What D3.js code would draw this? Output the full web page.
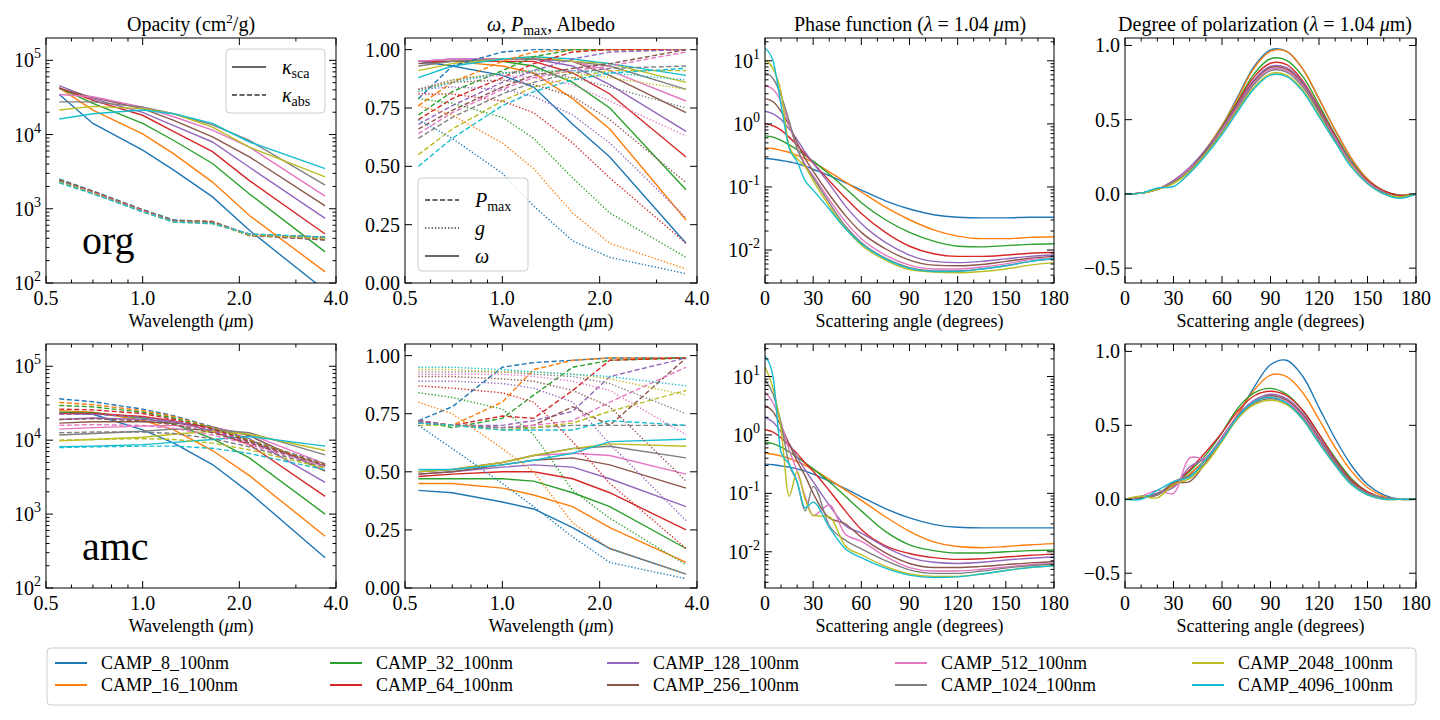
<!DOCTYPE html>
<html><head><meta charset="utf-8">
<script src="https://cdn.jsdelivr.net/npm/d3@7"></script>
<style>body{margin:0;background:#fff}text{font-family:"Liberation Serif","DejaVu Serif",serif;fill:#000}</style>
</head><body><svg id="c" width="1440" height="720"></svg>
<script>
const names=["CAMP_8_100nm","CAMP_16_100nm","CAMP_32_100nm","CAMP_64_100nm","CAMP_128_100nm","CAMP_256_100nm","CAMP_512_100nm","CAMP_1024_100nm","CAMP_2048_100nm","CAMP_4096_100nm"];
const colors=["#1f77b4","#ff7f0e","#2ca02c","#d62728","#9467bd","#8c564b","#e377c2","#7f7f7f","#bcbd22","#17becf"];
const wavelengths=[0.55,0.70,1.0,1.25,1.65,2.15,3.7];
// log10 of opacity
const orgKsca=[[4.54,4.15,3.79,3.52,3.16,2.71,1.90],[4.63,4.33,4.01,3.74,3.36,2.91,2.15],[4.63,4.42,4.15,3.92,3.61,3.20,2.42],[4.63,4.46,4.26,4.04,3.77,3.38,2.66],[4.66,4.48,4.30,4.12,3.90,3.56,2.87],[4.62,4.50,4.35,4.19,3.97,3.70,3.04],[4.54,4.51,4.37,4.24,4.06,3.83,3.17],[4.44,4.44,4.37,4.28,4.13,3.92,3.32],[4.33,4.38,4.35,4.28,4.10,3.83,3.43],[4.21,4.28,4.33,4.28,4.15,3.90,3.54]];
const orgKabs=[[3.40,3.24,2.99,2.85,2.83,2.65,2.58],[3.39,3.23,2.98,2.84,2.83,2.64,2.60],[3.39,3.23,2.98,2.84,2.82,2.64,2.61],[3.38,3.23,2.98,2.83,2.82,2.65,2.62],[3.38,3.22,2.97,2.83,2.81,2.65,2.59],[3.38,3.22,2.97,2.84,2.82,2.64,2.58],[3.37,3.22,2.97,2.83,2.81,2.65,2.60],[3.37,3.21,2.96,2.83,2.81,2.66,2.61],[3.36,3.21,2.96,2.82,2.80,2.65,2.60],[3.35,3.20,2.96,2.82,2.80,2.66,2.62]];
const amcKsca=[[4.37,4.35,4.14,3.96,3.67,3.29,2.41],[4.40,4.38,4.27,4.14,3.86,3.52,2.70],[4.38,4.37,4.30,4.22,4.02,3.76,3.00],[4.36,4.36,4.32,4.26,4.12,3.94,3.24],[4.28,4.30,4.28,4.25,4.17,4.02,3.43],[4.23,4.25,4.25,4.23,4.18,4.06,3.58],[4.15,4.17,4.19,4.20,4.17,4.08,3.68],[4.07,4.09,4.12,4.15,4.14,4.10,3.80],[3.99,4.01,4.04,4.08,4.12,4.08,3.86],[3.91,3.92,3.94,3.97,4.01,4.05,3.92]];
const amcKabs=[[4.56,4.52,4.42,4.33,4.18,4.00,3.68],[4.51,4.48,4.40,4.32,4.17,4.00,3.67],[4.47,4.45,4.38,4.30,4.16,3.99,3.66],[4.42,4.41,4.36,4.28,4.15,3.98,3.66],[4.35,4.35,4.31,4.25,4.13,3.97,3.65],[4.28,4.29,4.26,4.21,4.10,3.96,3.65],[4.20,4.21,4.20,4.16,4.07,3.94,3.64],[4.10,4.11,4.11,4.09,4.02,3.91,3.63],[4.00,4.01,4.02,4.01,3.96,3.87,3.62],[3.90,3.91,3.92,3.92,3.89,3.82,3.60]];
const orgOmega=[[0.95,0.93,0.89,0.84,0.68,0.54,0.17],[0.95,0.95,0.93,0.90,0.79,0.66,0.27],[0.95,0.95,0.95,0.93,0.86,0.75,0.40],[0.95,0.95,0.95,0.95,0.90,0.81,0.54],[0.95,0.96,0.96,0.96,0.93,0.85,0.65],[0.94,0.95,0.96,0.96,0.95,0.89,0.73],[0.95,0.96,0.96,0.96,0.95,0.91,0.78],[0.93,0.95,0.96,0.96,0.95,0.93,0.83],[0.91,0.94,0.96,0.97,0.95,0.94,0.86],[0.88,0.93,0.96,0.97,0.96,0.94,0.89]];
const orgPmax=[[0.79,0.93,0.99,1.0,1.0,1.0,1.0],[0.76,0.86,0.95,0.99,1.0,1.0,1.0],[0.72,0.82,0.91,0.97,1.0,1.0,1.0],[0.70,0.79,0.88,0.94,0.99,1.0,1.0],[0.68,0.76,0.86,0.91,0.96,0.99,1.0],[0.66,0.74,0.84,0.89,0.92,0.94,1.0],[0.64,0.73,0.83,0.88,0.91,0.93,0.99],[0.62,0.71,0.81,0.86,0.90,0.92,0.93],[0.55,0.66,0.78,0.84,0.88,0.91,0.91],[0.50,0.62,0.76,0.82,0.87,0.90,0.92]];
const orgG=[[0.70,0.62,0.47,0.33,0.18,0.11,0.04],[0.76,0.72,0.60,0.49,0.30,0.17,0.06],[0.79,0.77,0.71,0.62,0.45,0.30,0.11],[0.81,0.81,0.78,0.73,0.60,0.45,0.17],[0.83,0.84,0.83,0.80,0.72,0.60,0.28],[0.83,0.86,0.87,0.85,0.80,0.70,0.43],[0.83,0.87,0.89,0.88,0.85,0.78,0.63],[0.83,0.87,0.90,0.90,0.88,0.84,0.75],[0.82,0.87,0.90,0.91,0.90,0.88,0.83],[0.82,0.86,0.90,0.91,0.91,0.90,0.87]];
const amcOmega=[[0.42,0.41,0.37,0.34,0.26,0.17,0.06],[0.45,0.45,0.43,0.40,0.35,0.26,0.11],[0.47,0.47,0.47,0.46,0.41,0.35,0.17],[0.48,0.49,0.50,0.50,0.47,0.41,0.25],[0.49,0.50,0.52,0.53,0.52,0.47,0.35],[0.49,0.50,0.53,0.55,0.56,0.53,0.43],[0.50,0.51,0.54,0.57,0.58,0.57,0.49],[0.50,0.51,0.54,0.57,0.60,0.61,0.56],[0.50,0.51,0.54,0.57,0.60,0.62,0.61],[0.51,0.51,0.53,0.55,0.58,0.63,0.64]];
const amcPmax=[[0.72,0.78,0.95,0.97,0.98,0.99,0.99],[0.72,0.70,0.80,0.94,0.98,0.99,0.99],[0.72,0.69,0.73,0.83,0.95,0.98,0.99],[0.72,0.70,0.74,0.73,0.85,0.98,0.99],[0.72,0.70,0.70,0.72,0.76,0.91,0.99],[0.71,0.70,0.69,0.70,0.78,0.70,0.99],[0.71,0.70,0.69,0.70,0.72,0.80,0.95],[0.71,0.70,0.69,0.69,0.70,0.70,0.70],[0.70,0.70,0.68,0.69,0.71,0.76,0.85],[0.71,0.70,0.68,0.68,0.68,0.72,0.70]];
const amcG=[[0.70,0.60,0.45,0.35,0.22,0.11,0.04],[0.80,0.75,0.60,0.50,0.28,0.17,0.06],[0.84,0.82,0.77,0.66,0.42,0.30,0.10],[0.87,0.86,0.84,0.80,0.63,0.45,0.17],[0.89,0.89,0.88,0.86,0.80,0.62,0.29],[0.91,0.91,0.90,0.89,0.85,0.78,0.46],[0.92,0.92,0.92,0.91,0.89,0.85,0.66],[0.93,0.93,0.93,0.92,0.91,0.88,0.75],[0.94,0.94,0.93,0.93,0.92,0.90,0.83],[0.95,0.95,0.94,0.93,0.92,0.91,0.87]];
const phaseAngles=[0,5,10,15,20,25,30,40,50,60,75,90,105,120,135,150,165,180];
// log10 of phase function
const orgPhase=[[-0.55,-0.56,-0.58,-0.60,-0.63,-0.67,-0.72,-0.82,-0.93,-1.05,-1.22,-1.35,-1.44,-1.48,-1.49,-1.49,-1.48,-1.48],[-0.38,-0.39,-0.42,-0.45,-0.50,-0.55,-0.61,-0.76,-0.92,-1.08,-1.32,-1.52,-1.68,-1.78,-1.82,-1.82,-1.80,-1.79],[-0.19,-0.21,-0.26,-0.33,-0.41,-0.50,-0.59,-0.80,-1.02,-1.25,-1.52,-1.72,-1.86,-1.94,-1.95,-1.93,-1.91,-1.90],[0.0,-0.03,-0.10,-0.21,-0.34,-0.48,-0.62,-0.90,-1.17,-1.42,-1.72,-1.94,-2.06,-2.10,-2.10,-2.08,-2.05,-2.04],[0.20,0.16,0.07,-0.08,-0.25,-0.45,-0.62,-0.95,-1.30,-1.58,-1.88,-2.08,-2.18,-2.20,-2.18,-2.14,-2.10,-2.08],[0.40,0.35,0.20,-0.02,-0.30,-0.55,-0.75,-1.12,-1.45,-1.72,-1.98,-2.16,-2.24,-2.25,-2.23,-2.18,-2.13,-2.10],[0.61,0.55,0.35,0.0,-0.38,-0.64,-0.82,-1.20,-1.55,-1.82,-2.08,-2.24,-2.30,-2.30,-2.27,-2.22,-2.15,-2.12],[0.81,0.72,0.45,0.05,-0.40,-0.66,-0.85,-1.25,-1.62,-1.88,-2.13,-2.28,-2.33,-2.33,-2.30,-2.25,-2.18,-2.14],[1.01,0.88,0.50,-0.35,-0.55,-0.68,-0.90,-1.30,-1.65,-1.92,-2.16,-2.31,-2.35,-2.36,-2.34,-2.30,-2.24,-2.20],[1.20,1.00,0.30,-0.38,-0.60,-0.90,-1.05,-1.35,-1.66,-1.90,-2.14,-2.29,-2.34,-2.34,-2.30,-2.25,-2.18,-2.13]];
const amcPhase=[[-0.50,-0.51,-0.53,-0.55,-0.58,-0.62,-0.67,-0.79,-0.92,-1.06,-1.26,-1.42,-1.53,-1.58,-1.59,-1.59,-1.59,-1.59],[-0.31,-0.33,-0.36,-0.40,-0.46,-0.52,-0.59,-0.76,-0.94,-1.12,-1.40,-1.65,-1.83,-1.91,-1.93,-1.91,-1.88,-1.86],[-0.13,-0.15,-0.21,-0.29,-0.38,-0.48,-0.58,-0.80,-1.05,-1.30,-1.65,-1.88,-1.98,-2.02,-2.02,-2.00,-1.98,-1.97],[0.09,0.05,-0.05,-0.18,-0.32,-0.48,-0.62,-0.95,-1.30,-1.62,-1.90,-2.03,-2.10,-2.13,-2.12,-2.09,-2.06,-2.04],[0.30,0.22,0.05,-0.15,-0.38,-0.60,-0.80,-1.20,-1.55,-1.68,-1.92,-2.10,-2.18,-2.20,-2.18,-2.14,-2.11,-2.09],[0.50,0.40,0.15,-0.15,-0.45,-0.70,-1.00,-1.42,-1.52,-1.75,-2.02,-2.20,-2.27,-2.27,-2.25,-2.22,-2.19,-2.17],[0.73,0.55,0.20,-0.25,-0.62,-1.05,-1.38,-1.20,-1.70,-1.82,-2.08,-2.27,-2.33,-2.33,-2.30,-2.26,-2.22,-2.20],[0.94,0.70,0.20,-0.50,-0.80,-1.30,-0.88,-1.55,-1.80,-1.95,-2.15,-2.31,-2.37,-2.37,-2.33,-2.28,-2.24,-2.21],[1.16,0.80,0.10,-1.05,-0.63,-1.10,-1.38,-1.40,-1.90,-2.05,-2.25,-2.38,-2.42,-2.42,-2.38,-2.32,-2.27,-2.24],[1.35,1.00,-0.30,-0.50,-0.80,-1.25,-1.15,-1.58,-1.95,-2.10,-2.28,-2.40,-2.44,-2.43,-2.38,-2.32,-2.27,-2.24]];
const polAngles=[0,10,20,30,40,50,60,70,80,90,100,110,120,130,140,150,160,170,180];
const orgPol=[[0,0.005,0.03,0.08,0.17,0.30,0.46,0.66,0.86,0.97,0.96,0.84,0.64,0.43,0.24,0.10,0.02,-0.01,0],[0,0.005,0.03,0.08,0.17,0.30,0.46,0.65,0.85,0.96,0.96,0.84,0.64,0.43,0.24,0.10,0.02,-0.01,0],[0,0.005,0.03,0.08,0.17,0.29,0.45,0.63,0.81,0.91,0.90,0.79,0.60,0.40,0.22,0.09,0.02,-0.01,0],[0,0.005,0.03,0.09,0.17,0.29,0.44,0.62,0.79,0.88,0.87,0.76,0.58,0.39,0.21,0.09,0.02,-0.01,0],[0,0.005,0.03,0.09,0.18,0.30,0.44,0.61,0.77,0.86,0.85,0.75,0.57,0.38,0.21,0.08,0.01,-0.02,0],[0,0.005,0.03,0.08,0.17,0.29,0.43,0.60,0.76,0.85,0.84,0.74,0.56,0.37,0.20,0.08,0.01,-0.02,0],[0,0.005,0.03,0.08,0.17,0.28,0.43,0.59,0.75,0.84,0.83,0.73,0.55,0.37,0.20,0.08,0.01,-0.02,0],[0,0.005,0.03,0.08,0.16,0.28,0.42,0.58,0.74,0.83,0.82,0.72,0.55,0.36,0.19,0.07,0.01,-0.02,0],[0,0.005,0.03,0.07,0.15,0.27,0.41,0.57,0.72,0.81,0.80,0.70,0.53,0.35,0.19,0.07,0.0,-0.02,0],[0,0.005,0.04,0.05,0.14,0.26,0.40,0.56,0.71,0.80,0.79,0.69,0.52,0.35,0.18,0.07,0.0,-0.03,0]];
const amcPol=[[0,0.01,0.04,0.09,0.17,0.27,0.40,0.57,0.76,0.91,0.94,0.83,0.62,0.41,0.23,0.10,0.03,0.0,0],[0,0.01,0.04,0.09,0.17,0.27,0.41,0.58,0.74,0.84,0.83,0.72,0.54,0.35,0.19,0.08,0.02,0,0],[0,0.01,0.04,0.10,0.19,0.30,0.45,0.62,0.72,0.75,0.71,0.60,0.44,0.28,0.14,0.05,0.01,0,0],[0,0.01,0.03,0.10,0.20,0.32,0.45,0.60,0.70,0.73,0.70,0.60,0.44,0.27,0.13,0.05,0.01,0,0],[0,0.01,0.04,0.08,0.22,0.28,0.42,0.57,0.67,0.71,0.68,0.58,0.42,0.26,0.12,0.04,0.01,0,0],[0,0.01,0.03,0.11,0.12,0.25,0.41,0.56,0.66,0.70,0.67,0.57,0.41,0.25,0.12,0.04,0.01,0,0],[0,0.02,0.06,0.04,0.28,0.28,0.41,0.56,0.66,0.69,0.66,0.56,0.40,0.24,0.11,0.04,0.01,0,0],[0,0.02,0.03,0.12,0.16,0.25,0.40,0.55,0.65,0.68,0.65,0.55,0.39,0.24,0.11,0.04,0.01,0,0],[0,0.02,0.01,0.10,0.14,0.24,0.39,0.55,0.64,0.67,0.64,0.54,0.38,0.23,0.10,0.03,0,0,0],[0,0.0,0.06,0.12,0.15,0.27,0.40,0.56,0.66,0.69,0.65,0.54,0.38,0.23,0.10,0.03,0,0,0]];

const svg=d3.select("#c");
const cols=[[46,336],[405,697],[765,1054],[1125,1416]];
const rows=[[38,283],[344,588]];
let clipId=0;
function sup(sel,base,exp){sel.append("tspan").text(base);sel.append("tspan").attr("dy",-9).attr("font-size","0.7em").text(exp);}
function panel(ci,ri,x,y,opts){
  const [x0,x1]=cols[ci],[y0,y1]=rows[ri];
  x.range([x0,x1]);y.range([y1,y0]);
  const g=svg.append("g");
  const id="cl"+(clipId++);
  svg.append("clipPath").attr("id",id).append("rect").attr("x",x0).attr("y",y0).attr("width",x1-x0).attr("height",y1-y0);
  const plot=g.append("g").attr("clip-path",`url(#${id})`);
  const ax=g.append("g").attr("stroke","#000").attr("stroke-width",1);
  const tick=(vals,len,axis)=>vals.forEach(v=>{
    if(axis==="x"){const p=x(v);ax.append("line").attr("x1",p).attr("x2",p).attr("y1",y1).attr("y2",y1-len);ax.append("line").attr("x1",p).attr("x2",p).attr("y1",y0).attr("y2",y0+len);}
    else{const p=y(v);ax.append("line").attr("y1",p).attr("y2",p).attr("x1",x0).attr("x2",x0+len);ax.append("line").attr("y1",p).attr("y2",p).attr("x1",x1).attr("x2",x1-len);}
  });
  tick(opts.xt,7,"x");tick(opts.xm||[],3.5,"x");tick(opts.yt,7,"y");tick(opts.ym||[],3.5,"y");
  g.append("rect").attr("x",x0).attr("y",y0).attr("width",x1-x0).attr("height",y1-y0).attr("fill","none").attr("stroke","#000").attr("stroke-width",1);
  opts.xt.forEach(v=>g.append("text").attr("x",x(v)).attr("y",y1+22).attr("text-anchor","middle").attr("font-size",20).text(opts.xf(v)));
  opts.yt.forEach(v=>{const t=g.append("text").attr("x",x0-5).attr("y",y(v)+7).attr("text-anchor","end").attr("font-size",20);
    if(opts.ylog){sup(t,"10",Math.round(Math.log10(v)));} else t.text(opts.yf(v));});
  g.append("text").attr("x",(x0+x1)/2).attr("y",y1+44).attr("text-anchor","middle").attr("font-size",18).html(opts.xl);
  return plot;
}
function draw(plot,xs,ys,x,y,dash,log,curve){
  ys.forEach((s,i)=>{
    const d=s.map((v,j)=>[xs[j],log?Math.pow(10,v):v]);
    plot.append("path").attr("d",d3.line().x(p=>x(p[0])).y(p=>y(p[1])).curve(curve||d3.curveLinear)(d))
      .attr("fill","none").attr("stroke",colors[i]).attr("stroke-width",1.4).attr("stroke-dasharray",dash||null);
  });
}
const wlTicks=[0.5,1,2,4],wlMinor=[0.6,0.7,0.8,0.9,3];
const wlLab='Wavelength (<tspan font-style="italic">μ</tspan>m)';
const angLab='Scattering angle (degrees)';
const angTicks=[0,30,60,90,120,150,180],angMinor=d3.range(10,180,10).filter(v=>v%30);
const logMinor=(a,b)=>{const r=[];for(let e=a;e<b;e++)for(let k=2;k<10;k++)r.push(k*Math.pow(10,e));return r;};
const DASH="5,2.5",DOT="1.3,2";
[[orgKsca,orgKabs,orgOmega,orgPmax,orgG,orgPhase,orgPol,[0.003,23]],[amcKsca,amcKabs,amcOmega,amcPmax,amcG,amcPhase,amcPol,[0.0024,36]]].forEach((D,r)=>{
  let x=d3.scaleLog().domain([0.5,4]),y=d3.scaleLog().domain([100,2e5]);
  let p=panel(0,r,x,y,{xt:wlTicks,xm:wlMinor,xf:d3.format(".1f"),yt:[1e2,1e3,1e4,1e5],ym:logMinor(2,5),ylog:true,xl:wlLab});
  draw(p,wavelengths,D[0],x,y,null,true);draw(p,wavelengths,D[1],x,y,DASH,true);
  x=d3.scaleLog().domain([0.5,4]);y=d3.scaleLinear().domain([0,1.05]);
  p=panel(1,r,x,y,{xt:wlTicks,xm:wlMinor,xf:d3.format(".1f"),yt:[0,0.25,0.5,0.75,1],yf:d3.format(".2f"),xl:wlLab});
  draw(p,wavelengths,D[2],x,y,null);draw(p,wavelengths,D[3],x,y,DASH);draw(p,wavelengths,D[4],x,y,DOT);
  x=d3.scaleLinear().domain([0,180]);y=d3.scaleLog().domain(D[7]);
  p=panel(2,r,x,y,{xt:angTicks,xm:angMinor,xf:d3.format("d"),yt:[0.01,0.1,1,10],ym:logMinor(-3,2).filter(v=>v>=D[7][0]&&v<=D[7][1]),ylog:true,xl:angLab});
  draw(p,phaseAngles,D[5],x,y,null,true,d3.curveMonotoneX);
  x=d3.scaleLinear().domain([0,180]);y=d3.scaleLinear().domain([-0.6,1.05]);
  p=panel(3,r,x,y,{xt:angTicks,xm:angMinor,xf:d3.format("d"),yt:[-0.5,0,0.5,1],yf:v=>v.toFixed(1).replace("-","−"),xl:angLab});
  draw(p,polAngles,D[6],x,y,null,false,d3.curveCatmullRom);
  svg.append("text").attr("x",82).attr("y",rows[r][0]+216).attr("font-size",40).text(r?"amc":"org");
});
// titles
const T=(x,h)=>svg.append("text").attr("x",x).attr("y",31).attr("text-anchor","middle").attr("font-size",20).html(h);
T(191,'Opacity (cm<tspan dy="-8" font-size="13">2</tspan><tspan dy="8">/g)</tspan>');
T(551,'<tspan font-style="italic">ω</tspan>, <tspan font-style="italic">P</tspan><tspan font-size="14" dy="4">max</tspan><tspan dy="-4">, Albedo</tspan>');
T(910,'Phase function (<tspan font-style="italic">λ</tspan> = 1.04 <tspan font-style="italic">μ</tspan>m)');
T(1265,'Degree of polarization (<tspan font-style="italic">λ</tspan> = 1.04 <tspan font-style="italic">μ</tspan>m)');
// in-panel legends
function box(x,y,w,h){svg.append("rect").attr("x",x).attr("y",y).attr("width",w).attr("height",h).attr("rx",4).attr("fill","#fff").attr("fill-opacity",0.8).attr("stroke","#ccc");}
function key(x,y,dash,html){svg.append("line").attr("x1",x).attr("x2",x+34).attr("y1",y).attr("y2",y).attr("stroke","#333").attr("stroke-width",1.5).attr("stroke-dasharray",dash);
  svg.append("text").attr("x",x+50).attr("y",y+7).attr("font-size",20).html(html);}
box(226,49,99,64);
key(232,67,null,'<tspan font-style="italic">κ</tspan><tspan font-size="14" dy="4">sca</tspan>');
key(232,95,DASH,'<tspan font-style="italic">κ</tspan><tspan font-size="14" dy="4">abs</tspan>');
box(418,178,110,93);
key(425,200,DASH,'<tspan font-style="italic">P</tspan><tspan font-size="14" dy="4">max</tspan>');
key(425,228,DOT,'<tspan font-style="italic">g</tspan>');
key(425,256,null,'<tspan font-style="italic">ω</tspan>');
// bottom legend
svg.append("rect").attr("x",47).attr("y",648).attr("width",1369).attr("height",57).attr("rx",4).attr("fill","#fff").attr("stroke","#ccc");
const lx=[55,330,607,895,1192];
names.forEach((n,i)=>{const c=Math.floor(i/2),r=i%2,yy=663+r*22;
  svg.append("line").attr("x1",lx[c]).attr("x2",lx[c]+32).attr("y1",yy).attr("y2",yy).attr("stroke",colors[i]).attr("stroke-width",2);
  svg.append("text").attr("x",lx[c]+46).attr("y",yy+6).attr("font-size",18).text(n);});
</script></body></html>
